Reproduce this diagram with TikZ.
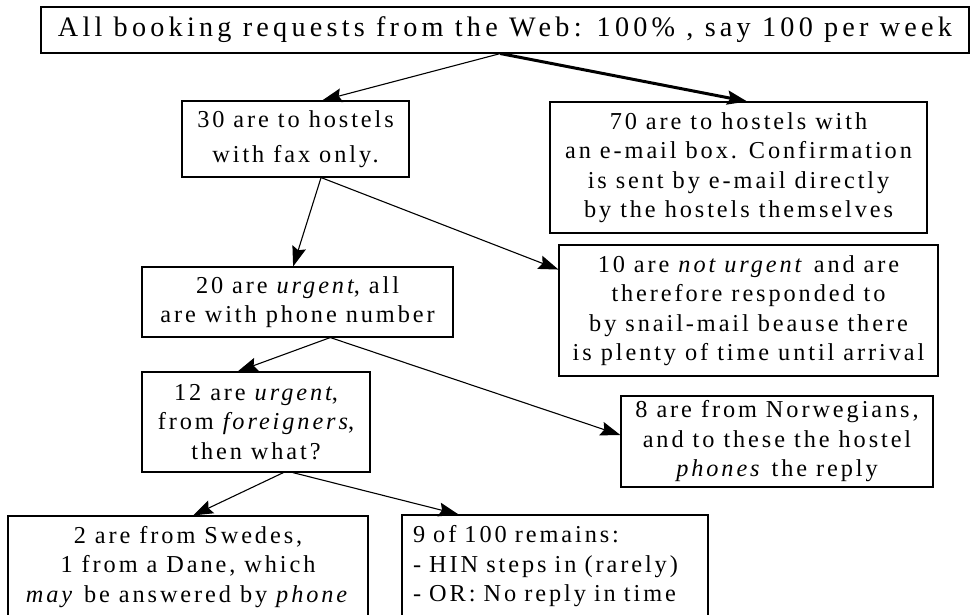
\documentclass[tikz,border=0pt]{standalone}
\usepackage{fontspec}
\setmainfont{Liberation Serif}[LetterSpace=12]
\newfontfamily\headfont{Liberation Serif}[LetterSpace=15]
\usetikzlibrary{arrows.meta,calc}

\newcommand{\bodysize}{\fontsize{24.3}{29.5}\selectfont}
\newcommand{\headsize}{\headfont\fontsize{28.2}{32}\selectfont}

\tikzset{
  box/.style={draw, line width=1.1pt, inner sep=0pt, align=center, font=\bodysize},
  conn/.style={line width=1.1pt, -{Stealth[length=20pt,width=14pt,inset=3pt]}},
  mainconn/.style={line width=3pt, -{Stealth[length=20pt,width=14pt,inset=3pt]}},
}

\begin{document}
\begin{tikzpicture}[x=1pt,y=-1pt]
  \useasboundingbox (0,0) rectangle (970,614);
  \fill[white] (0,0) rectangle (970,614);
  \clip (0,0) rectangle (970,614);

  % boxes
  \node[box, font=\headsize, minimum width=928pt, minimum height=46pt] (title) at (505,30)
    {\raisebox{-2pt}{All booking requests from the W\kern3pt eb: 100\% , say 100 per week}};
  \node[box, minimum width=227pt, minimum height=76pt] (fax) at (295.5,139)
    {30 are to hostels\\[5pt]with fax only.};
  \node[box, minimum width=377pt, minimum height=131pt] (email) at (738.5,167.5)
    {70 are to hostels with\\an e-mail box. Confirmation\\is sent by e-mail directly\\by the hostels themselves};
  \node[box, minimum width=311pt, minimum height=70pt] (urg20) at (297.5,302)
    {20 are \textit{urgent}, all\\are with phone number};
  \node[box, minimum width=379pt, minimum height=131pt] (not10) at (748.5,310.5)
    {10 are \textit{not urgent} and are\\therefore responded to\\by snail-mail beause there\\is plenty of time until arrival};
  \node[box, minimum width=228pt, minimum height=100pt] (urg12) at (256,422)
    {12 are \textit{urgent},\\from \textit{foreigners},\\then what?};
  \node[box, minimum width=312pt, minimum height=91pt] (nor8) at (777,441.5)
    {8 are from Norwegians,\\and to these the hostel\\\textit{phones} the reply};
  \node[box, minimum width=360pt, minimum height=102pt] (swe) at (188,567)
    {2 are from Swedes,\\1 from a Dane, which\\\textit{may} be answered by \textit{phone}};
  \node[box, align=left, inner xsep=11pt, text width=284pt, minimum height=103pt] (nine) at (555,566.5)
    {9 of 100 remains:\\- HIN steps in (rarely)\\- OR: No reply in time};

  % connector end points on the box borders
  \coordinate (t0) at ($(title.south west)!0.495!(title.south east)$);
  \coordinate (faxin) at ($(fax.north west)!0.617!(fax.north east)$);
  \coordinate (emailin) at ($(email.north west)!0.523!(email.north east)$);
  \coordinate (faxout) at ($(fax.south west)!0.612!(fax.south east)$);
  \coordinate (urg20in) at ($(urg20.north west)!0.486!(urg20.north east)$);
  \coordinate (not10in) at ($(not10.north west)!0.19!(not10.south west)$);
  \coordinate (urg20out) at ($(urg20.south west)!0.605!(urg20.south east)$);
  \coordinate (urg12in) at ($(urg12.north west)!0.42!(urg12.north east)$);
  \coordinate (nor8in) at ($(nor8.north west)!0.43!(nor8.south west)$);
  \coordinate (urg12outa) at ($(urg12.south west)!0.62!(urg12.south east)$);
  \coordinate (urg12outb) at ($(urg12.south west)!0.66!(urg12.south east)$);
  \coordinate (swein) at ($(swe.north west)!0.514!(swe.north east)$);
  \coordinate (ninein) at ($(nine.north west)!0.186!(nine.north east)$);

  % connectors
  \draw[conn] (t0) -- (faxin);
  \draw[mainconn] (t0) -- (emailin);
  \draw[conn] (faxout) -- (urg20in);
  \draw[conn] (faxout) -- (not10in);
  \draw[conn] (urg20out) -- (urg12in);
  \draw[conn] (urg20out) -- (nor8in);
  \draw[conn] (urg12outa) -- (swein);
  \draw[conn] (urg12outb) -- (ninein);
\end{tikzpicture}
\end{document}
